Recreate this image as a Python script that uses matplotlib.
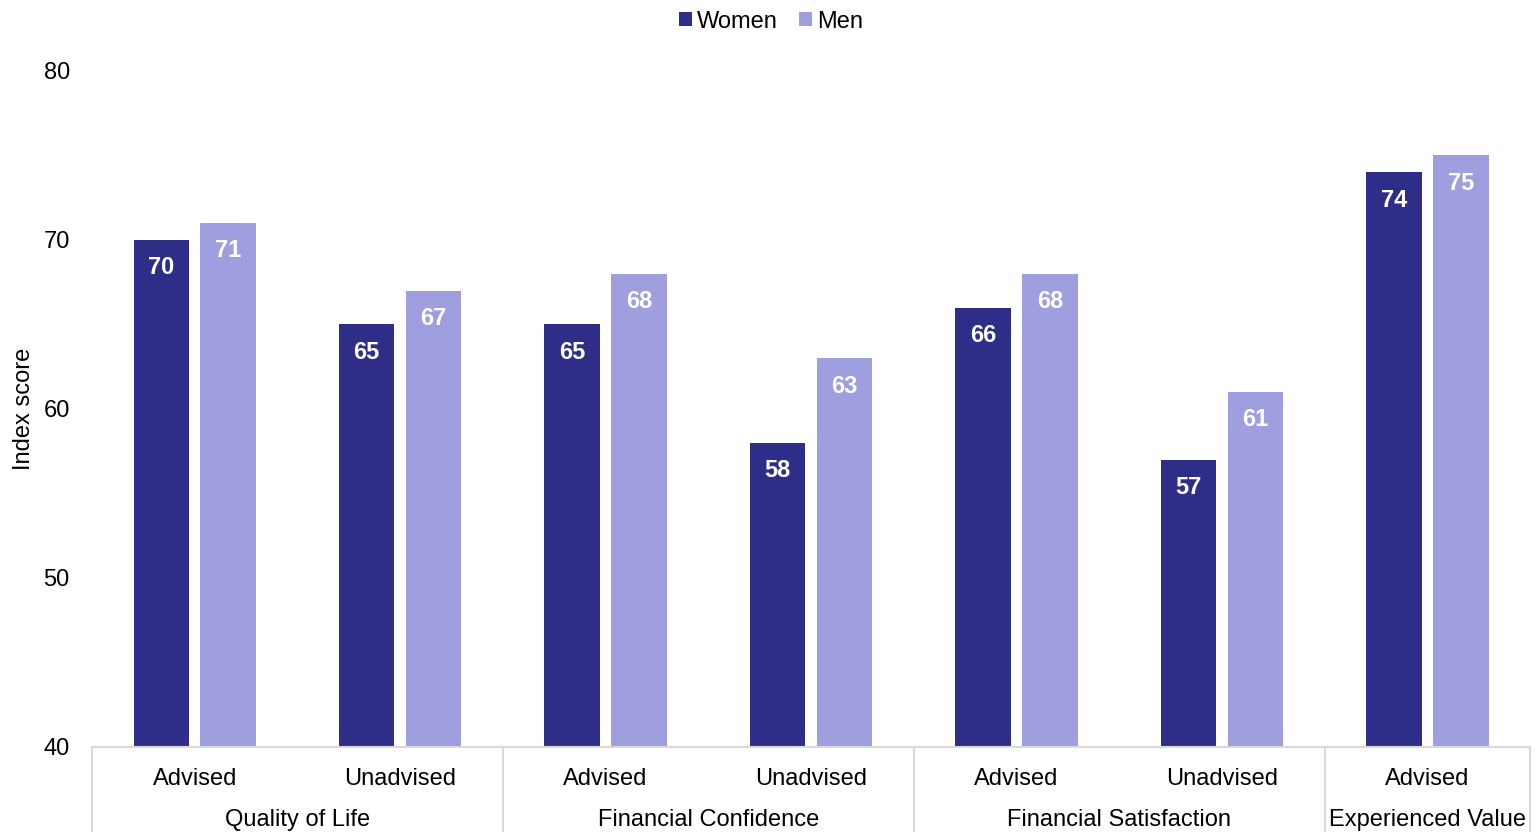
import matplotlib.pyplot as plt
import matplotlib.transforms as mtransforms
from matplotlib.patches import Patch
import numpy as np

plt.rcParams['font.family'] = ['Liberation Sans', 'DejaVu Sans']

# Data
sub_labels = ["Advised", "Unadvised", "Advised", "Unadvised", "Advised", "Unadvised", "Advised"]
group_labels = ["Quality of Life", "Financial Confidence", "Financial Satisfaction", "Experienced Value"]
group_spans = [(0, 1), (2, 3), (4, 5), (6, 6)]
women = [70, 65, 65, 58, 66, 57, 74]
men = [71, 67, 68, 63, 68, 61, 75]

WOMEN_COLOR = "#2E2E88"
MEN_COLOR = "#9F9EDE"
LINE_COLOR = "#D9D9D9"
FS = 17

fig = plt.figure(figsize=(15.36, 8.32), dpi=100)
ax = fig.add_axes([0.0599, 0.1022, 0.9362, 0.8125])

x = np.arange(len(sub_labels))
w = 0.27
off = 0.163
b1 = ax.bar(x - off, [v - 40 for v in women], width=w, bottom=40, color=WOMEN_COLOR)
b2 = ax.bar(x + off, [v - 40 for v in men], width=w, bottom=40, color=MEN_COLOR)

for bars, vals in ((b1, women), (b2, men)):
    for rect, v in zip(bars, vals):
        ax.annotate(f"{v}", xy=(rect.get_x() + rect.get_width() / 2, v),
                    xytext=(0, -20), textcoords="offset points",
                    ha="center", va="center", color="white",
                    fontsize=FS, fontweight="bold")

ax.set_xlim(-0.5, len(sub_labels) - 0.5)
ax.set_ylim(40, 80)
ax.set_yticks([40, 50, 60, 70, 80])
ax.tick_params(axis="y", length=0, pad=16, labelsize=FS)
ax.set_ylabel("Index score", fontsize=FS, labelpad=6)

ax.set_xticks(x)
ax.set_xticklabels(sub_labels, fontsize=FS)
ax.tick_params(axis="x", length=0, pad=15)

for side in ("top", "right", "left"):
    ax.spines[side].set_visible(False)
ax.spines["bottom"].set_color(LINE_COLOR)
ax.spines["bottom"].set_linewidth(1.5)

trans = mtransforms.blended_transform_factory(ax.transData, ax.transAxes)
bounds = [-0.5, 1.5, 3.5, 5.5, 6.5]
for b in bounds:
    ax.plot([b, b], [0, -0.14], transform=trans, color=LINE_COLOR,
            linewidth=1.5, clip_on=False)

for label, (a, c) in zip(group_labels, group_spans):
    ax.text((a + c) / 2, -0.108, label, transform=trans, ha="center",
            va="center", fontsize=FS)

handles = [Patch(facecolor=WOMEN_COLOR, label="Women"),
           Patch(facecolor=MEN_COLOR, label="Men")]
fig.legend(handles=handles, loc="center", bbox_to_anchor=(0.502, 0.974),
           ncol=2, frameon=False, fontsize=FS, handlelength=0.55,
           handleheight=0.55, handletextpad=0.2, columnspacing=0.9)

fig.savefig("out.png", dpi=100)
